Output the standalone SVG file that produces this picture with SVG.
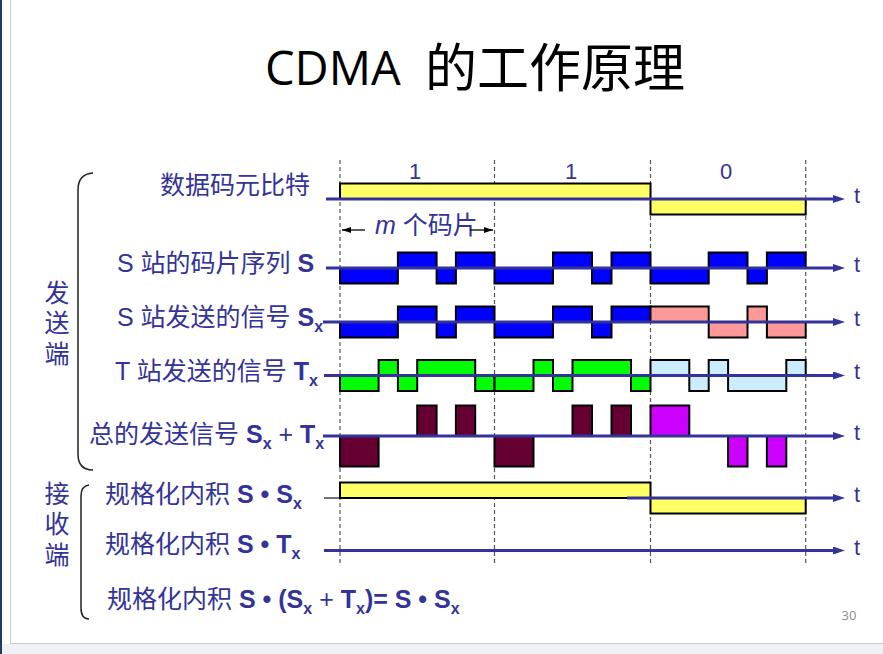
<svg xmlns="http://www.w3.org/2000/svg" width="883" height="654" viewBox="0 0 883 654">
<style>
.lbl{font-family:"Liberation Sans","Noto Sans CJK SC",sans-serif;font-size:25px;fill:#333399}
.b{font-weight:bold}
.sub{font-weight:bold;font-size:16px}
.side{font-family:"Noto Sans CJK SC",sans-serif;font-size:25px;fill:#333399;writing-mode:vertical-rl;letter-spacing:5.5px}
.t{font-family:"Liberation Sans",sans-serif;font-size:22px;fill:#333399;text-anchor:middle}
.axis{stroke:#333399;stroke-width:3;fill:none}
.dash{stroke:#555;stroke-width:1.2;stroke-dasharray:4 3;fill:none}
.w{stroke:#000;stroke-width:2}
.yel{fill:#FFFF66}
.blu{fill:#0000FF}
.grn{fill:#00FF00}
.pnk{fill:#FF9999}
.lbl2{fill:#CCECFF}
.mar{fill:#660033}
.mag{fill:#CC00FF}
.brace{stroke:#222;stroke-width:1.5;fill:none}
</style>
<defs>
<marker id="arr" viewBox="0 0 12 8" refX="5" refY="4" markerWidth="12" markerHeight="8" markerUnits="userSpaceOnUse" orient="auto">
<path d="M0,0 L12,4 L0,8 z" fill="#333399"/>
</marker>
<marker id="ak" viewBox="0 0 9 6" refX="9" refY="3" markerWidth="9" markerHeight="6" markerUnits="userSpaceOnUse" orient="auto-start-reverse">
<path d="M0,0 L9,3 L0,6 z" fill="#000"/>
</marker>
</defs>
<rect x="0" y="0" width="883" height="654" fill="#fff"/>
<rect x="0" y="644" width="883" height="10" fill="#eef1f5"/>
<line x1="10.5" y1="0" x2="10.5" y2="643.5" stroke="#c5ccd6" stroke-width="1"/>
<line x1="10" y1="643.5" x2="883" y2="643.5" stroke="#c5ccd6" stroke-width="1"/>
<rect x="0" y="0" width="2" height="654" fill="#1c3c66"/>

<g id="title">
<text x="265" y="85" font-family="'Open Sans',sans-serif" font-size="47" fill="#000">CDMA</text>
<text x="425" y="87" font-family="'Noto Sans CJK SC',sans-serif" font-size="52" fill="#000">的工作原理</text>
</g>

<g id="side-labels">
<path class="brace" d="M93,173 Q78,174 78,190 L78,454 Q78,470 93,470"/>
<path class="brace" d="M89,485 Q81,486 81,496 L81,608 Q81,619 89,619"/>
<text class="side" x="57" y="279.5">发送端</text>
<text class="side" x="57" y="480.5">接收端</text>
</g>

<g id="grid">
<line class="dash" x1="340" y1="160" x2="340" y2="565"/>
<line class="dash" x1="494.5" y1="160" x2="494.5" y2="565"/>
<line class="dash" x1="650.5" y1="160" x2="650.5" y2="565"/>
<line class="dash" x1="805.7" y1="160" x2="805.7" y2="565"/>
</g>

<g id="row-data">
<text class="lbl" x="160" y="194">数据码元比特</text>
<text class="t" x="415" y="179">1</text>
<text class="t" x="571" y="179">1</text>
<text class="t" x="726" y="179">0</text>
<rect class="w yel" x="340" y="183.5" width="310.5" height="15.5"/>
<rect class="w yel" x="650.5" y="199" width="155.2" height="15.5"/>
<text class="t" x="857" y="203">t</text>
</g>

<g id="chips-label">
<text class="lbl" x="375" y="234" font-size="22"><tspan font-style="italic">m</tspan> 个码片</text>
</g>

<g id="row-S">
<text class="lbl" x="117" y="272">S 站的码片序列 <tspan class="b">S</tspan></text>
<g class="w blu">
<rect x="340" y="268" width="57.9" height="15.5"/>
<rect x="397.9" y="252.5" width="38.7" height="15.5"/>
<rect x="436.6" y="268" width="19.3" height="15.5"/>
<rect x="455.9" y="252.5" width="38.6" height="15.5"/>
<rect x="494.5" y="268" width="58.5" height="15.5"/>
<rect x="553" y="252.5" width="39" height="15.5"/>
<rect x="592" y="268" width="19.5" height="15.5"/>
<rect x="611.5" y="252.5" width="39" height="15.5"/>
<rect x="650.5" y="268" width="58.2" height="15.5"/>
<rect x="708.7" y="252.5" width="38.8" height="15.5"/>
<rect x="747.5" y="268" width="19.4" height="15.5"/>
<rect x="766.9" y="252.5" width="38.8" height="15.5"/>
</g>
<text class="t" x="857" y="272">t</text>
</g>

<g id="row-Sx">
<text class="lbl" x="117" y="326">S 站发送的信号 <tspan class="b">S</tspan><tspan class="sub" dy="6">x</tspan></text>
<g class="w blu">
<rect x="340" y="322" width="57.9" height="15.5"/>
<rect x="397.9" y="306.5" width="38.7" height="15.5"/>
<rect x="436.6" y="322" width="19.3" height="15.5"/>
<rect x="455.9" y="306.5" width="38.6" height="15.5"/>
<rect x="494.5" y="322" width="58.5" height="15.5"/>
<rect x="553" y="306.5" width="39" height="15.5"/>
<rect x="592" y="322" width="19.5" height="15.5"/>
<rect x="611.5" y="306.5" width="39" height="15.5"/>
</g>
<g class="w pnk">
<rect x="650.5" y="306.5" width="58.2" height="15.5"/>
<rect x="708.7" y="322" width="38.8" height="15.5"/>
<rect x="747.5" y="306.5" width="19.4" height="15.5"/>
<rect x="766.9" y="322" width="38.8" height="15.5"/>
</g>
<text class="t" x="857" y="326">t</text>
</g>

<g id="row-Tx">
<text class="lbl" x="115" y="380">T 站发送的信号 <tspan class="b">T</tspan><tspan class="sub" dy="6">x</tspan></text>
<g class="w grn">
<rect x="340" y="375.5" width="38.6" height="15.5"/>
<rect x="378.6" y="360" width="19.3" height="15.5"/>
<rect x="397.9" y="375.5" width="19.3" height="15.5"/>
<rect x="417.2" y="360" width="58" height="15.5"/>
<rect x="475.2" y="375.5" width="19.3" height="15.5"/>
<rect x="494.5" y="375.5" width="39" height="15.5"/>
<rect x="533.5" y="360" width="19.5" height="15.5"/>
<rect x="553" y="375.5" width="19.5" height="15.5"/>
<rect x="572.5" y="360" width="58.5" height="15.5"/>
<rect x="631" y="375.5" width="19.5" height="15.5"/>
</g>
<g class="w lbl2">
<rect x="650.5" y="360" width="38.8" height="15.5"/>
<rect x="689.3" y="375.5" width="19.4" height="15.5"/>
<rect x="708.7" y="360" width="19.4" height="15.5"/>
<rect x="728.1" y="375.5" width="58.2" height="15.5"/>
<rect x="786.3" y="360" width="19.4" height="15.5"/>
</g>
<text class="t" x="857" y="379">t</text>
</g>

<g id="row-sum">
<text class="lbl" x="89" y="443">总的发送信号 <tspan class="b">S</tspan><tspan class="sub" dy="6">x</tspan><tspan dy="-6"> + </tspan><tspan class="b">T</tspan><tspan class="sub" dy="6">x</tspan></text>
<g class="w mar">
<rect x="340" y="436" width="38.6" height="30.5"/>
<rect x="417.2" y="405.5" width="19.4" height="30.5"/>
<rect x="455.9" y="405.5" width="19.3" height="30.5"/>
<rect x="494.5" y="436" width="39" height="30.5"/>
<rect x="572.5" y="405.5" width="19.5" height="30.5"/>
<rect x="611.5" y="405.5" width="19.5" height="30.5"/>
</g>
<g class="w mag">
<rect x="650.5" y="405.5" width="38.8" height="30.5"/>
<rect x="728.1" y="436" width="19.4" height="30.5"/>
<rect x="766.9" y="436" width="19.4" height="30.5"/>
</g>
<text class="t" x="857" y="440">t</text>
</g>

<g id="row-SSx">
<text class="lbl" x="105" y="503">规格化内积 <tspan class="b">S • S</tspan><tspan class="sub" dy="6">x</tspan></text>
<line x1="324" y1="498" x2="340" y2="498" stroke="#444" stroke-width="1.5"/>
<rect class="w yel" x="340" y="482.5" width="310.5" height="15.5"/>
<rect class="w yel" x="650.5" y="498" width="155.2" height="15.5"/>
<text class="t" x="857" y="502">t</text>
</g>

<g id="row-STx">
<text class="lbl" x="105" y="553">规格化内积 <tspan class="b">S • T</tspan><tspan class="sub" dy="6">x</tspan></text>
<text class="t" x="857" y="555">t</text>
</g>

<g id="row-result">
<text class="lbl" x="107" y="608">规格化内积 <tspan class="b">S • (S</tspan><tspan class="sub" dy="6">x</tspan><tspan dy="-6"> + </tspan><tspan class="b">T</tspan><tspan class="sub" dy="6">x</tspan><tspan class="b" dy="-6">)= S • S</tspan><tspan class="sub" dy="6">x</tspan></text>
</g>

<g id="connectors">
<line class="axis" x1="326" y1="199" x2="838" y2="199" marker-end="url(#arr)"/>
<line class="axis" x1="326" y1="268" x2="838" y2="268" marker-end="url(#arr)"/>
<line class="axis" x1="323" y1="322" x2="838" y2="322" marker-end="url(#arr)"/>
<line class="axis" x1="324" y1="375.5" x2="838" y2="375.5" marker-end="url(#arr)"/>
<line class="axis" x1="323" y1="436" x2="838" y2="436" marker-end="url(#arr)"/>
<line class="axis" x1="627" y1="498" x2="838" y2="498" marker-end="url(#arr)"/>
<line class="axis" x1="324" y1="550.5" x2="838" y2="550.5" marker-end="url(#arr)"/>
<line x1="342" y1="230" x2="365" y2="230" stroke="#000" stroke-width="1.3" marker-start="url(#ak)"/>
<line x1="470" y1="230" x2="493" y2="230" stroke="#000" stroke-width="1.3" marker-end="url(#ak)"/>
</g>

<text x="849" y="620" font-family="'Open Sans',sans-serif" font-size="13" fill="#8c8c8c" text-anchor="middle">30</text>
</svg>
